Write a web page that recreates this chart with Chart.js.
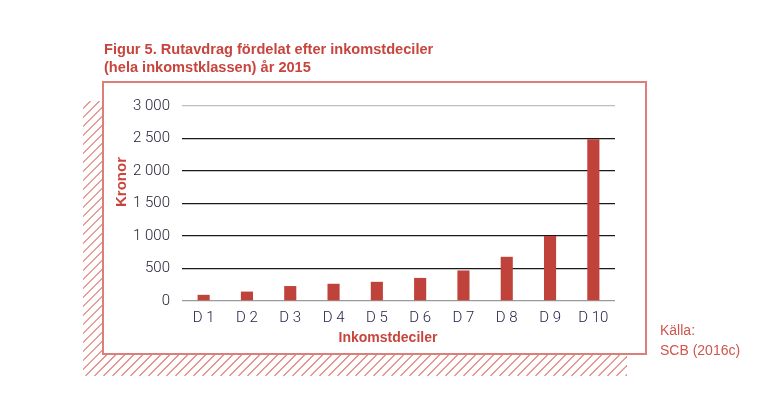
<!DOCTYPE html>
<html lang="sv">
<head>
<meta charset="UTF-8">
<script src="https://cdn.jsdelivr.net/npm/chart.js@4.4.0/dist/chart.umd.min.js"></script>
<title>Rutavdrag</title>
<style>
  body { margin: 0; background: #fff; }
</style>
</head>
<body>
<canvas id="myChart" width="759" height="393"></canvas>
<script>
// data
var deciles = ['D 1', 'D 2', 'D 3', 'D 4', 'D 5', 'D 6', 'D 7', 'D 8', 'D 9', 'D 10'];
var kronor = [95, 145, 230, 265, 295, 355, 470, 680, 1000, 2490];
var titleLines = ['Figur 5. Rutavdrag fördelat efter inkomstdeciler', '(hela inkomstklassen) år 2015'];
var sourceLines = ['Källa:', 'SCB (2016c)'];
var yTitle = 'Kronor';
var xTitle = 'Inkomstdeciler';

var red = '#c8453e';
var pink = '#dc7f78';

// frame, hatched shadow, heading, axis titles and source note
var decor = {
    id: 'decor',
    beforeDraw: function(chart) {
        var c = chart.ctx;
        c.save();
        c.fillStyle = '#fff';
        c.fillRect(0, 0, chart.width, chart.height);

        // hatched shadow
        c.save();
        c.beginPath();
        c.rect(83, 101, 544, 275);
        c.clip();
        c.strokeStyle = '#dc7b74';
        c.lineWidth = 1.1;
        for (var x = 0; x < 1000; x += 9) {
            c.beginPath();
            c.moveTo(x + 0.5, 101);
            c.lineTo(x + 0.5 - 275, 376);
            c.stroke();
        }
        c.restore();

        // white box with border
        c.fillStyle = '#fff';
        c.fillRect(103, 81, 544, 273);
        c.strokeStyle = pink;
        c.lineWidth = 2;
        c.strokeRect(103, 82, 543, 272);

        // heading
        c.fillStyle = red;
        c.font = 'bold 14.6px "Liberation Sans", Arial, sans-serif';
        c.textBaseline = 'middle';
        c.textAlign = 'left';
        c.fillText(titleLines[0], 104, 50);
        c.fillText(titleLines[1], 104, 68);

        // source
        c.font = '14px "Liberation Sans", Arial, sans-serif';
        c.fillStyle = '#cf554d';
        c.fillText(sourceLines[0], 660, 331);
        c.fillText(sourceLines[1], 660, 351);

        // axis titles
        c.fillStyle = red;
        c.font = 'bold 14px "Liberation Sans", Arial, sans-serif';
        c.textAlign = 'center';
        c.fillText(xTitle, 388, 338);
        c.font = 'bold 15px "Liberation Sans", Arial, sans-serif';
        c.translate(122, 182);
        c.rotate(-Math.PI / 2);
        c.fillText(yTitle, 0, 0);
        c.restore();
    }
};

var ctx = document.getElementById('myChart').getContext('2d');
var chart = new Chart(ctx, {
    type: 'bar',
    data: {
        labels: deciles,
        datasets: [{
            label: 'Kronor',
            data: kronor,
            backgroundColor: '#c0433b',
            barPercentage: 0.28,
            categoryPercentage: 1
        }]
    },
    options: {
        responsive: false,
        animation: false,
        layout: { padding: { left: 110, right: 144, top: 106, bottom: 0 } },
        plugins: {
            legend: { display: false },
            tooltip: { enabled: false }
        },
        scales: {
            x: {
                afterFit: function(scale) { scale.height = 92; },
                grid: { display: false, drawTicks: false },
                border: { display: false },
                ticks: {
                    color: '#23234a',
                    padding: 8,
                    font: { family: 'Roboto', size: 15, weight: 300 }
                }
            },
            y: {
                min: 0,
                max: 3000,
                afterFit: function(scale) { scale.width = 72; },
                border: { display: false },
                grid: {
                    drawTicks: false,
                    lineWidth: 1.3,
                    color: function(c) {
                        if (c.tick.value === 3000) return '#bdbdbd';
                        if (c.tick.value === 0) return '#9a9a9a';
                        return '#1a1a1a';
                    }
                },
                ticks: {
                    stepSize: 500,
                    padding: 12,
                    color: '#1c1c30',
                    font: { family: 'Roboto', size: 15, weight: 300 },
                    callback: function(v) {
                        return String(v).replace(/\B(?=(\d{3})+(?!\d))/g, ' ');
                    }
                }
            }
        }
    },
    plugins: [decor]
});
</script>
</body>
</html>
